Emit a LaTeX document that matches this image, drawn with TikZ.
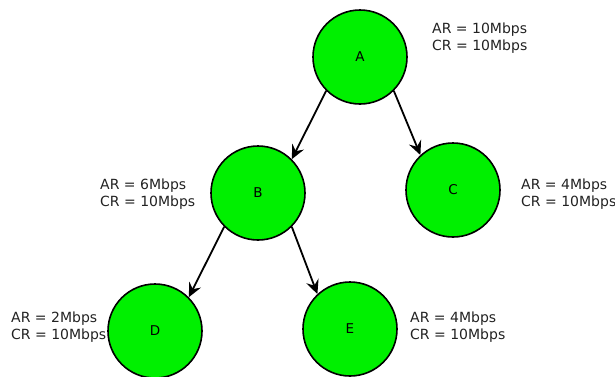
\documentclass[tikz,border=0pt]{standalone}
\usepackage{fontspec}
\setmainfont{DejaVu Sans}
\usetikzlibrary{arrows.meta}
\definecolor{nodegreen}{HTML}{00F000}
\definecolor{labelgray}{HTML}{222222}
\begin{document}
\begin{tikzpicture}[x=1pt,y=-1pt,
  router/.style={circle,draw=black,line width=1.6pt,fill=nodegreen,
    minimum size=94pt,inner sep=0pt,font=\fontsize{13.5}{15}\selectfont},
  rate/.style={anchor=west,align=left,inner sep=0pt,text=labelgray,
    font=\fontsize{14}{17}\selectfont},
  link/.style={line width=1.8pt,-{Stealth[length=14pt,width=13pt,inset=5pt]}}]
  \useasboundingbox (0,0) rectangle (615,376);
  % routers
  \node[router] (A) at (360,57) {A};
  \node[router] (B) at (258,193) {B};
  \node[router] (C) at (453,190) {C};
  \node[router] (D) at (155,331) {D};
  \node[router] (E) at (350,329) {E};
  % links
  \draw[link] (A.225) -- (B.45);
  \draw[link] (A.315) -- (C.133);
  \draw[link] (B.225) -- (D.45);
  \draw[link] (B.315) -- (E.133);
  % rate labels
  \node[rate] (la) at (432,38.5) {AR = 10Mbps\\CR = 10Mbps};
  \node[rate] (lb) at (100,194) {AR = 6Mbps\\CR = 10Mbps};
  \node[rate] (lc) at (521,194) {AR = 4Mbps\\CR = 10Mbps};
  \node[rate] (ld) at (11,327.5) {AR = 2Mbps\\CR = 10Mbps};
  \node[rate] (le) at (410,327.5) {AR = 4Mbps\\CR = 10Mbps};
\end{tikzpicture}
\end{document}
